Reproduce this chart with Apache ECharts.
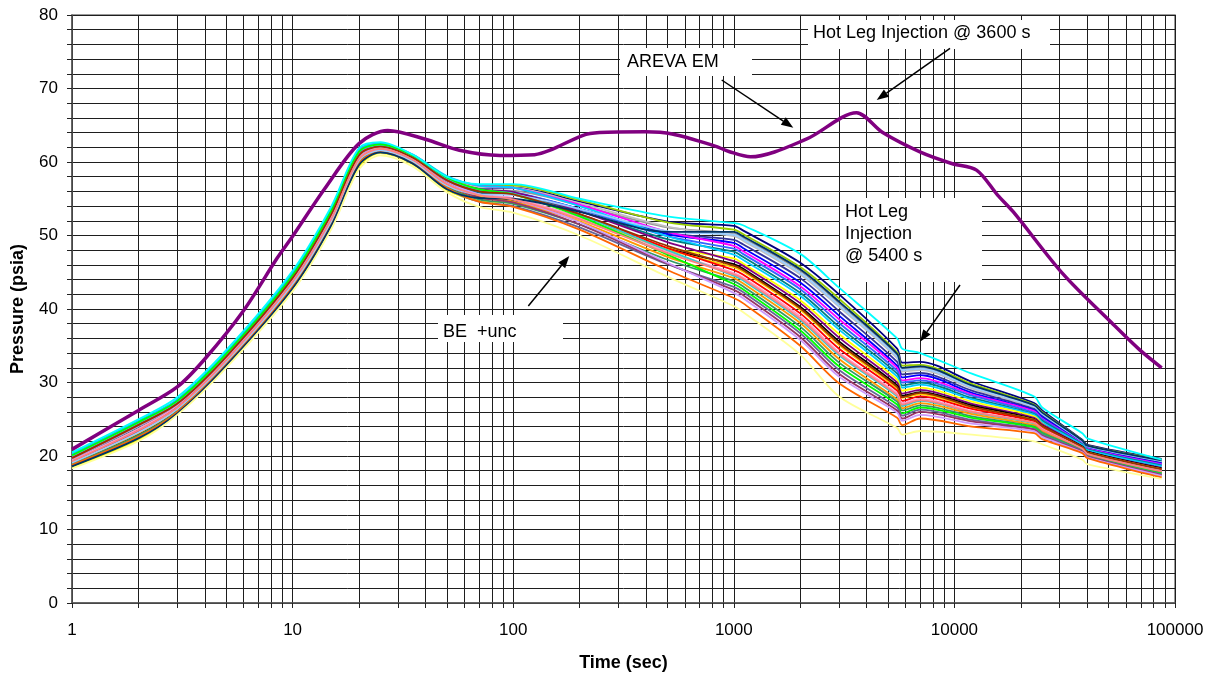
<!DOCTYPE html>
<html>
<head>
<meta charset="utf-8">
<script src="https://cdn.jsdelivr.net/npm/echarts@6/dist/echarts.min.js"></script>
<style>
  html, body { margin: 0; padding: 0; background: #fff; }
  #chart { width: 1211px; height: 677px; }
</style>
</head>
<body>
<div id="chart"></div>
<script>
// time points (s) shared by all best-estimate runs
const timeBE = [1, 2, 3, 5, 10, 15, 20, 25, 35, 50, 70, 100, 200, 500, 1000, 1100, 2000, 3000, 5500, 5800, 7000, 12000, 23000, 25000, 38000, 40000, 87000];

// BE +unc runs, pressure (psia)
const run01 = [19.8, 24.3, 27.2, 33.6, 44.3, 53.0, 61.0, 62.2, 60.7, 57.6, 56.5, 56.5, 54.6, 51.9, 51.3, 50.7, 46.3, 42.0, 34.6, 32.7, 32.8, 30.1, 27.2, 26.2, 22.2, 21.5, 19.6];
const run02 = [20.1, 24.6, 27.5, 33.9, 44.6, 53.4, 61.4, 62.4, 60.9, 57.9, 56.8, 56.8, 54.8, 51.8, 50.8, 50.2, 45.7, 41.4, 34.1, 32.3, 32.4, 29.8, 27.0, 26.0, 22.1, 21.4, 19.5];
const run03 = [19.6, 24.1, 27.0, 33.4, 44.0, 52.7, 60.8, 62.0, 60.5, 57.4, 56.2, 56.1, 54.1, 51.1, 50.3, 49.7, 45.2, 40.8, 33.7, 31.9, 32.0, 29.5, 26.8, 25.8, 22.0, 21.3, 19.4];
const run04 = [20.0, 24.5, 27.4, 33.8, 44.5, 53.3, 61.3, 62.3, 60.8, 57.8, 56.6, 56.5, 54.4, 51.2, 49.9, 49.3, 44.7, 40.3, 33.3, 31.5, 31.7, 29.2, 26.6, 25.7, 22.0, 21.3, 19.3];
const run05 = [19.3, 23.5, 26.6, 33.0, 43.7, 52.3, 60.4, 61.8, 60.3, 57.0, 55.8, 55.7, 53.6, 50.4, 49.4, 48.8, 44.2, 39.7, 32.8, 31.1, 31.3, 28.9, 26.4, 25.5, 21.9, 21.2, 19.1];
const run06 = [19.4, 23.6, 26.7, 33.2, 43.8, 52.5, 60.6, 61.9, 60.4, 57.2, 55.9, 55.7, 53.6, 50.2, 49.0, 48.3, 43.6, 39.1, 32.3, 30.7, 31.0, 28.6, 26.2, 25.3, 21.8, 21.1, 19.0];
const run07 = [20.2, 24.7, 27.6, 34.0, 44.8, 53.5, 61.6, 62.5, 61.0, 58.0, 56.8, 56.5, 54.2, 50.5, 48.6, 47.9, 43.1, 38.6, 32.0, 30.3, 30.6, 28.4, 26.1, 25.1, 21.7, 21.0, 18.9];
const run08 = [19.7, 24.2, 27.1, 33.5, 44.2, 52.9, 60.9, 62.1, 60.6, 57.5, 56.2, 55.9, 53.6, 49.9, 48.2, 47.5, 42.7, 38.1, 31.6, 30.0, 30.3, 28.2, 25.9, 25.0, 21.6, 20.9, 18.8];
const run09 = [19.5, 23.8, 26.8, 33.3, 43.9, 52.6, 60.7, 61.9, 60.4, 57.3, 55.9, 55.6, 53.3, 49.5, 47.8, 47.1, 42.2, 37.6, 31.2, 29.6, 30.0, 27.9, 25.7, 24.8, 21.6, 20.9, 18.7];
const run10 = [20.3, 24.8, 27.7, 34.1, 44.9, 53.7, 61.7, 62.5, 61.0, 58.1, 56.8, 56.5, 54.0, 49.9, 47.4, 46.7, 41.8, 37.2, 30.8, 29.3, 29.7, 27.7, 25.6, 24.6, 21.5, 20.8, 18.6];
const run11 = [18.5, 22.2, 25.7, 32.2, 42.7, 51.2, 59.4, 61.2, 59.7, 56.2, 54.7, 54.4, 52.1, 48.3, 46.9, 46.2, 41.2, 36.6, 30.4, 28.9, 29.3, 27.4, 25.4, 24.4, 20.6, 19.9, 17.2];
const run12 = [19.9, 24.4, 27.3, 33.7, 44.4, 53.1, 61.2, 62.2, 60.7, 57.7, 56.3, 55.9, 53.3, 49.1, 46.5, 45.9, 40.8, 36.1, 30.0, 28.5, 29.0, 27.1, 25.2, 24.3, 21.3, 20.6, 18.4];
const run13 = [19.0, 23.0, 26.3, 32.7, 43.3, 51.9, 60.1, 61.6, 60.1, 56.7, 55.2, 54.8, 52.3, 48.2, 46.1, 45.5, 40.3, 35.6, 29.6, 28.2, 28.7, 26.9, 25.0, 24.1, 21.3, 20.6, 18.3];
const run14 = [19.2, 23.3, 26.5, 32.9, 43.6, 52.2, 60.3, 61.7, 60.2, 56.9, 55.4, 55.0, 52.4, 48.1, 45.7, 45.1, 39.9, 35.1, 29.2, 27.9, 28.4, 26.6, 24.9, 24.0, 21.2, 20.5, 18.2];
const run15 = [19.8, 24.3, 27.2, 33.6, 44.3, 53.0, 61.0, 62.1, 60.6, 57.5, 56.1, 55.6, 52.9, 48.3, 45.3, 44.7, 39.4, 34.6, 28.9, 27.5, 28.1, 26.4, 24.7, 23.8, 21.1, 20.4, 18.1];
const run16 = [19.4, 23.7, 26.8, 33.2, 43.8, 52.4, 60.5, 61.9, 60.3, 57.1, 55.6, 55.1, 52.4, 47.8, 44.9, 44.3, 39.0, 34.1, 28.5, 27.2, 27.8, 26.1, 24.5, 23.7, 21.0, 20.3, 18.0];
const run17 = [20.0, 24.5, 27.4, 33.8, 44.5, 53.3, 61.3, 62.3, 60.8, 57.8, 56.2, 55.7, 52.8, 48.0, 44.5, 43.9, 38.5, 33.7, 28.1, 26.8, 27.5, 25.9, 24.4, 23.5, 21.0, 20.3, 17.9];
const run18 = [19.1, 23.1, 26.4, 32.8, 43.4, 52.0, 60.2, 61.6, 60.1, 56.8, 55.2, 54.6, 51.9, 47.1, 44.2, 43.5, 38.1, 33.2, 27.7, 26.5, 27.2, 25.7, 24.2, 23.4, 20.9, 20.2, 17.8];
const run19 = [18.9, 22.8, 26.1, 32.6, 43.2, 51.8, 59.9, 61.5, 60.0, 56.6, 54.9, 54.3, 51.5, 46.7, 43.8, 43.1, 37.6, 32.7, 27.4, 26.2, 26.9, 25.4, 24.0, 23.2, 20.8, 20.1, 17.7];
const run20 = [20.1, 24.6, 27.5, 33.9, 44.6, 53.4, 61.4, 62.4, 60.9, 57.9, 56.3, 55.6, 52.6, 47.4, 43.4, 42.7, 37.1, 32.2, 27.0, 25.8, 26.6, 25.2, 23.9, 23.0, 20.7, 20.0, 17.6];
const run21 = [18.7, 22.5, 25.9, 32.4, 43.0, 51.5, 59.7, 61.3, 59.8, 56.4, 54.6, 54.0, 51.1, 46.1, 43.0, 42.3, 36.7, 31.7, 26.6, 25.5, 26.3, 24.9, 23.7, 22.9, 20.7, 20.0, 17.5];
const run22 = [19.2, 23.4, 26.6, 32.9, 43.6, 52.2, 60.3, 61.7, 60.2, 56.9, 55.2, 54.5, 51.5, 46.2, 42.6, 41.9, 36.2, 31.2, 26.2, 25.1, 26.0, 24.7, 23.6, 22.7, 20.6, 19.9, 17.4];
const run23 = [19.6, 24.1, 27.0, 33.4, 44.0, 52.7, 60.8, 62.0, 60.5, 57.4, 55.6, 54.9, 51.8, 46.3, 42.2, 41.5, 35.8, 30.8, 25.9, 24.8, 25.6, 24.4, 23.4, 22.6, 20.5, 19.8, 17.3];
const run24 = [18.8, 22.6, 26.0, 32.5, 43.1, 51.6, 59.8, 61.4, 59.9, 56.5, 54.6, 53.9, 50.8, 45.3, 41.5, 40.8, 35.0, 29.9, 25.2, 24.2, 25.1, 24.0, 23.1, 22.3, 20.4, 19.7, 17.1];
const run25 = [19.1, 23.2, 26.4, 32.8, 43.4, 52.0, 60.2, 61.6, 60.1, 56.8, 55.6, 55.5, 53.6, 50.6, 50.1, 49.5, 44.9, 40.5, 33.5, 31.7, 31.9, 29.4, 26.7, 25.7, 22.0, 21.3, 19.3];
const run26 = [19.7, 24.2, 27.1, 33.5, 44.2, 52.9, 60.9, 62.1, 60.6, 57.5, 56.0, 55.6, 52.9, 48.6, 45.9, 45.3, 40.1, 35.3, 29.4, 28.0, 28.6, 26.7, 24.9, 24.1, 21.2, 20.5, 18.2];
const run27 = [18.6, 22.4, 25.8, 32.3, 42.8, 51.4, 59.6, 61.3, 59.8, 56.3, 55.1, 55.0, 53.2, 50.5, 50.5, 49.9, 45.4, 41.0, 33.9, 32.0, 32.2, 29.6, 26.9, 25.9, 22.1, 21.4, 19.4];
const run28 = [19.3, 23.5, 26.6, 33.0, 43.7, 52.3, 60.4, 61.8, 60.3, 57.0, 55.5, 54.9, 52.2, 47.6, 44.7, 44.1, 38.7, 33.9, 28.3, 27.0, 27.6, 26.0, 24.5, 23.6, 21.0, 20.3, 17.9];
const run29 = [18.3, 22.0, 25.6, 32.0, 42.4, 50.9, 59.0, 60.9, 59.4, 55.9, 53.9, 53.1, 50.0, 44.4, 40.4, 39.6, 33.8, 28.1, 23.8, 22.9, 23.4, 22.9, 22.0, 21.6, 19.5, 18.9, 16.9];
const run30 = [20.5, 25.0, 28.0, 34.4, 45.2, 54.0, 61.9, 62.7, 61.0, 58.0, 57.0, 57.0, 55.0, 52.6, 51.7, 51.4, 47.5, 42.9, 36.0, 34.6, 34.0, 31.2, 28.1, 26.6, 23.1, 22.4, 19.5];

const runs = [run01, run02, run03, run04, run05, run06, run07, run08, run09, run10,
              run11, run12, run13, run14, run15, run16, run17, run18, run19, run20,
              run21, run22, run23, run24, run25, run26, run27, run28, run29, run30];
const runColors = ['#000080', '#99CC00', '#969696', '#C0C0C0', '#333399', '#0000FF', '#FF00FF', '#3366FF', '#008080', '#00CCFF',
                   '#FFFF00', '#800080', '#000000', '#FFCC00', '#FF0000', '#FF99CC', '#33CCCC', '#FF9900', '#339966', '#00FF00',
                   '#666699', '#993366', '#CC99FF', '#FF6600', '#99CCFF', '#993300', '#003366', '#FF8080', '#FFFF99', '#00FFFF'];

// AREVA EM run
const timeEM = [1, 2, 3, 4, 6, 8.5, 10, 14, 20, 27, 40, 57, 87, 125, 147, 206, 246, 397, 526, 816, 957, 1190, 2130, 3600, 4730, 7060, 9710, 12600, 15700, 18500, 31200, 52500, 69400, 87000];
const pressureEM = [20.9, 26.2, 29.4, 33.2, 39.8, 46.9, 49.9, 56.4, 62.5, 64.3, 63.1, 61.6, 60.9, 61.0, 61.6, 63.6, 64.0, 64.1, 63.8, 62.2, 61.4, 60.7, 63.1, 66.7, 64.0, 61.3, 59.8, 58.9, 55.5, 53.2, 44.7, 37.9, 34.4, 32.0];

const FONT = 'Liberation Sans, Arial, sans-serif';
const GRID_LINE = { color: '#1e1e1e', width: 1 };

function pairs(times, values) {
	return times.map((t, i) => [t, values[i]]);
}

const series = runs.map((r, i) => ({
	name: 'BE run ' + (i + 1),
	type: 'line',
	data: pairs(timeBE, r),
	showSymbol: false,
	symbol: 'none',
	smooth: 0.3,
	lineStyle: { color: runColors[i], width: 1.8 },
	itemStyle: { color: runColors[i] },
	z: 3
}));

series.push({
	name: 'AREVA EM',
	type: 'line',
	data: pairs(timeEM, pressureEM),
	showSymbol: false,
	symbol: 'none',
	smooth: 0.3,
	lineStyle: { color: '#800080', width: 3.5 },
	itemStyle: { color: '#800080' },
	z: 4
});

const chart = echarts.init(document.getElementById('chart'), null, { renderer: 'canvas' });

chart.setOption({
	animation: false,
	backgroundColor: '#fff',
	grid: {
		left: 72, right: 36, top: 15, bottom: 69,
		show: true, borderColor: '#7a7a7a', borderWidth: 1.5,
		containLabel: false
	},
	xAxis: {
		type: 'log',
		logBase: 10,
		min: 1,
		max: 100000,
		name: 'Time (sec)',
		nameLocation: 'middle',
		nameGap: 51,
		nameTextStyle: { fontFamily: FONT, fontSize: 18, fontWeight: 'bold', color: '#000' },
		axisLine: { lineStyle: { color: '#555', width: 1.5 } },
		axisTick: { show: true, inside: false, length: 5, lineStyle: { color: '#222' } },
		minorTick: { show: true, splitNumber: 9, length: 5, lineStyle: { color: '#222' } },
		axisLabel: { fontFamily: FONT, fontSize: 17, color: '#000', margin: 19, formatter: v => String(v) },
		splitLine: { show: true, lineStyle: GRID_LINE },
		minorSplitLine: { show: true, lineStyle: GRID_LINE }
	},
	yAxis: {
		type: 'value',
		min: 0,
		max: 80,
		interval: 10,
		name: 'Pressure (psia)',
		nameLocation: 'middle',
		nameGap: 45,
		nameTextStyle: { fontFamily: FONT, fontSize: 18, fontWeight: 'bold', color: '#000' },
		axisLine: { show: true, lineStyle: { color: '#555', width: 1.5 } },
		axisTick: { show: true, inside: false, length: 5, lineStyle: { color: '#222' } },
		minorTick: { show: true, splitNumber: 5, length: 5, lineStyle: { color: '#222' } },
		axisLabel: { fontFamily: FONT, fontSize: 17, color: '#000', margin: 14 },
		splitLine: { show: true, lineStyle: GRID_LINE },
		minorSplitLine: { show: true, lineStyle: GRID_LINE }
	},
	series: series
});

// annotation boxes and arrows (pixel positions)
function arrow(x1, y1, x2, y2) {
	const a = Math.atan2(y2 - y1, x2 - x1);
	const L = 12, W = 4.5;
	const bx = x2 - L * Math.cos(a), by = y2 - L * Math.sin(a);
	return [
		{ type: 'line', z: 100, shape: { x1: x1, y1: y1, x2: bx, y2: by }, style: { stroke: '#000', lineWidth: 1.5 } },
		{ type: 'polygon', z: 100, shape: { points: [[x2, y2], [bx - W * Math.sin(a), by + W * Math.cos(a)], [bx + W * Math.sin(a), by - W * Math.cos(a)]] }, style: { fill: '#000' } }
	];
}

function box(x, y, w, h) {
	return { type: 'rect', z: 99, shape: { x: x, y: y, width: w, height: h }, style: { fill: '#fff' } };
}

function label(x, y, text, valign, lineHeight) {
	return {
		type: 'text', z: 101, x: x, y: y,
		style: { text: text, fill: '#000', fontFamily: FONT, fontSize: 18, lineHeight: lineHeight || 22, align: 'left', verticalAlign: valign || 'middle' }
	};
}

const graphics = [
	box(620, 48, 132, 28), label(627, 62, 'AREVA EM'),
	box(808, 20, 242, 29), label(813, 33.5, 'Hot Leg Injection @ 3600 s'),
	box(840, 198, 142, 84), label(845, 200.5, 'Hot Leg\nInjection\n@ 5400 s', 'top', 22.3),
	box(438, 315, 125, 27), label(443, 332.5, 'BE  +unc')
].concat(
	arrow(721.7, 80, 793.3, 127.7),
	arrow(950, 48.3, 876.7, 100),
	arrow(528.3, 306, 569.3, 256),
	arrow(960, 285, 920, 341.7)
);

chart.setOption({ graphic: graphics });
</script>
</body>
</html>
